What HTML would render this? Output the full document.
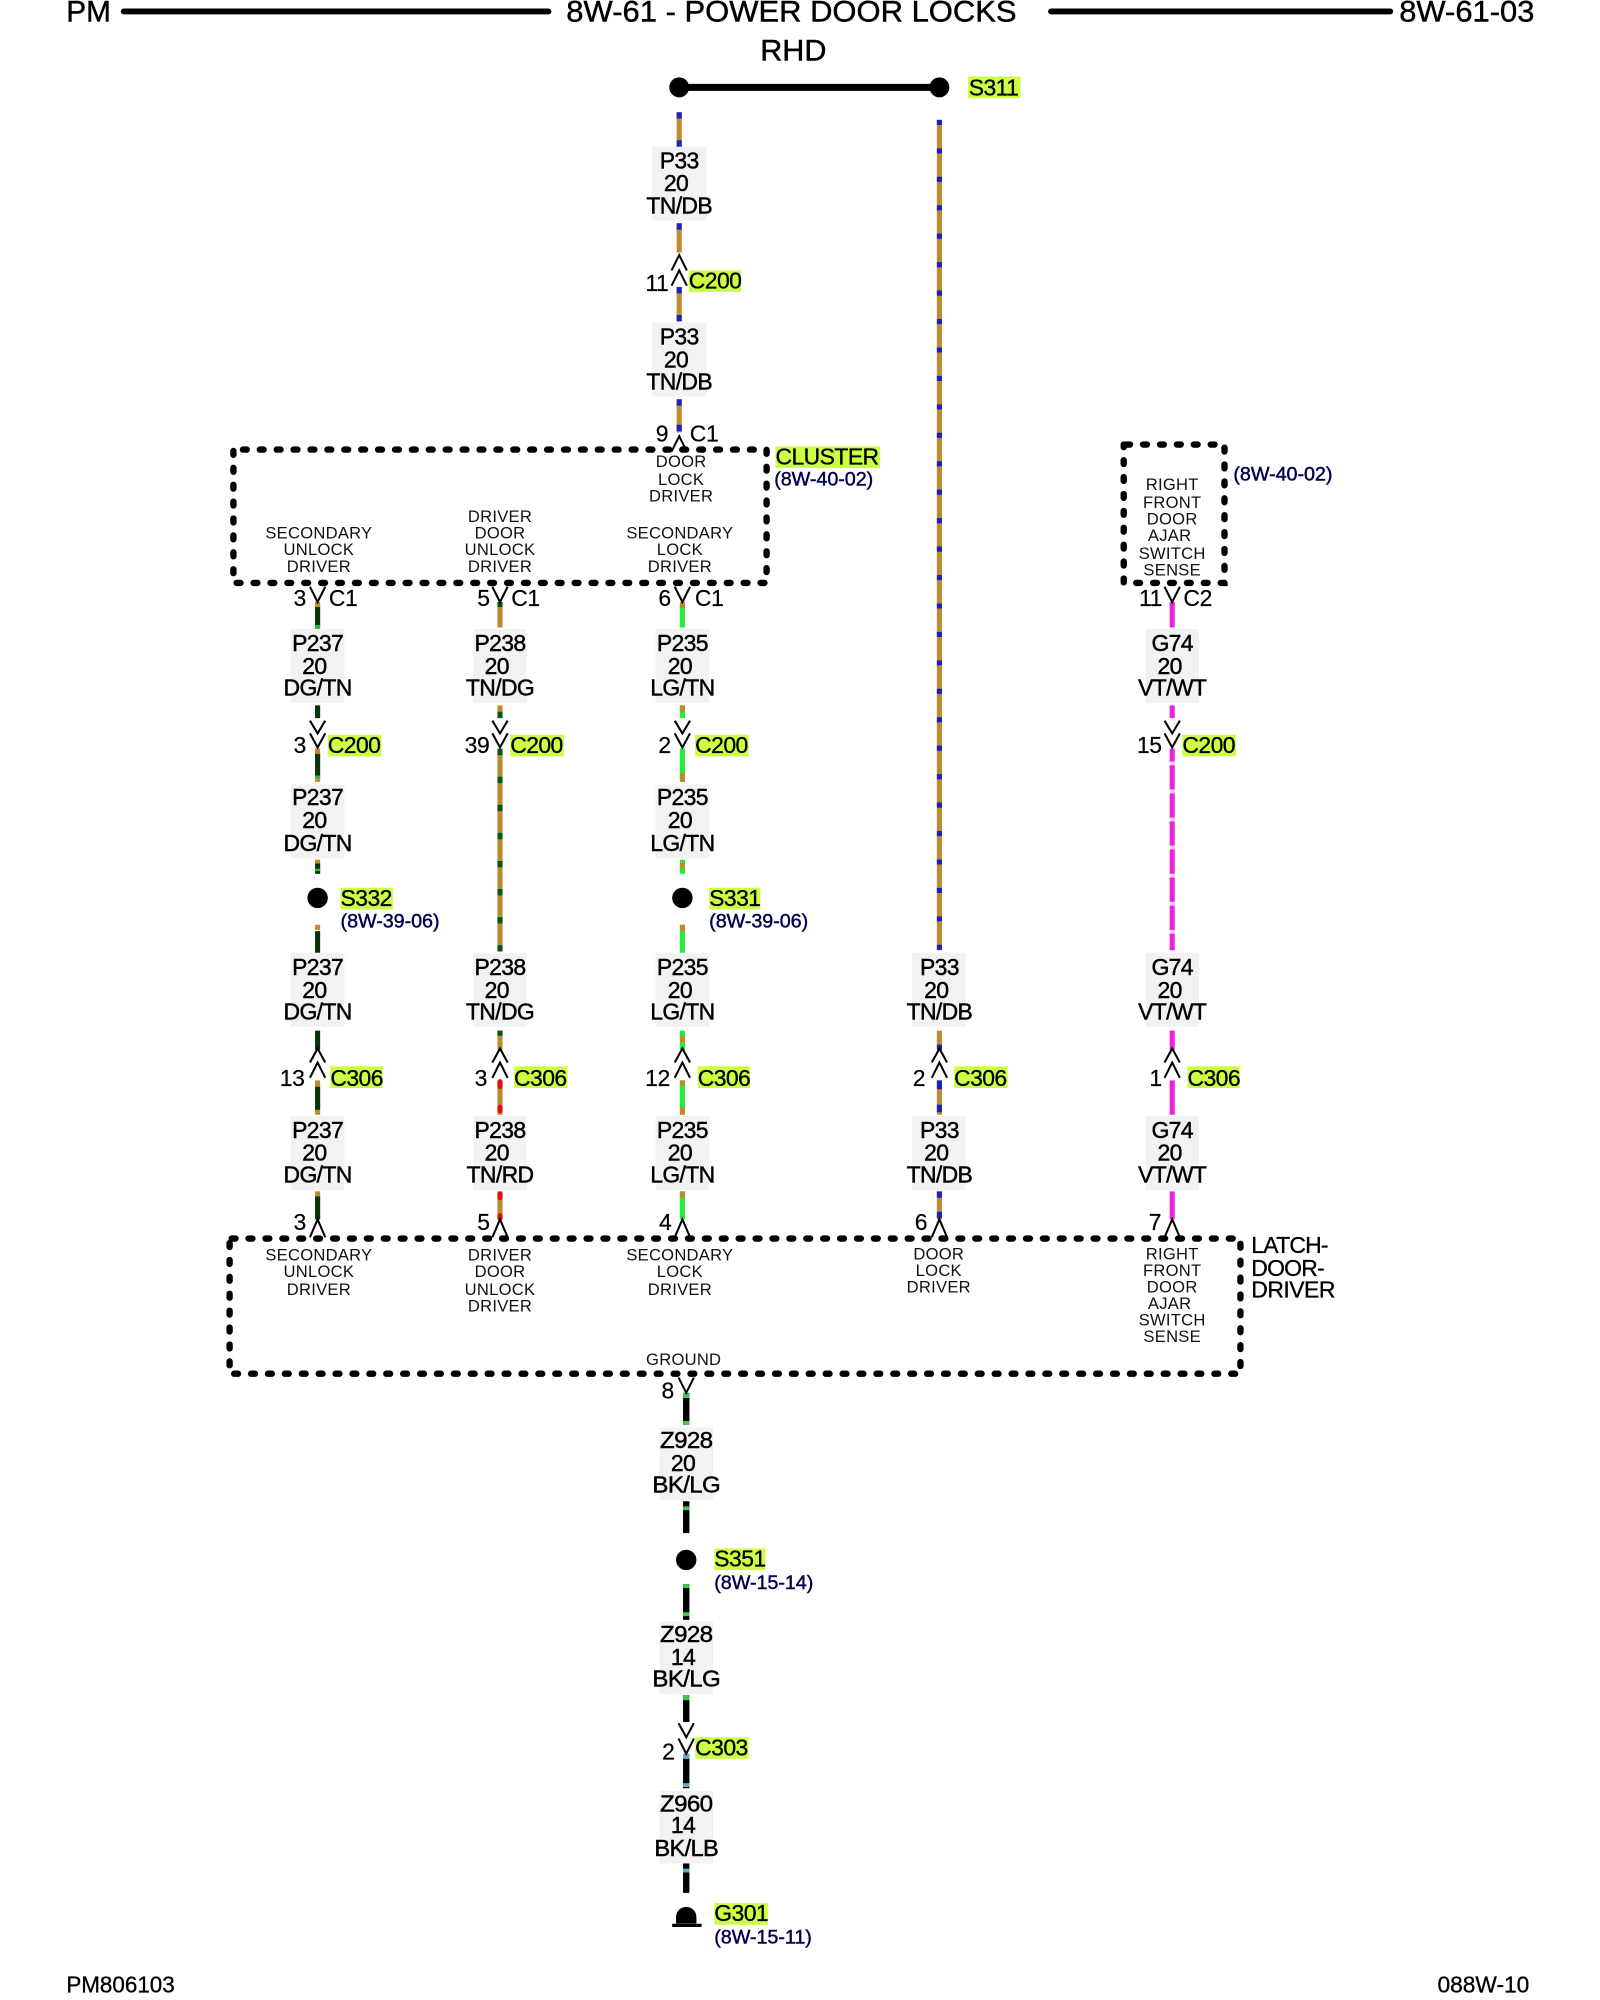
<!DOCTYPE html>
<html><head><meta charset="utf-8"><style>
html,body{margin:0;padding:0;background:#fff}
svg{display:block;width:1600px;height:2000px}
text{font-family:"Liberation Sans",sans-serif;fill:#000;dominant-baseline:central}
.t{font-size:23px;stroke:#000;stroke-width:.35}
.w{font-size:18px;text-anchor:middle;letter-spacing:-.5px;stroke:#000;stroke-width:.35}
.n{font-size:18px;text-anchor:middle;letter-spacing:-.3px;stroke:#000;stroke-width:.15}
.h{font-size:18px;letter-spacing:-.45px;stroke:#000;stroke-width:.25}
.s{font-size:13px;text-anchor:middle;letter-spacing:.2px;fill:#111}
.r{font-size:15.5px;letter-spacing:-.05px;fill:#00004f;stroke:#00004f;stroke-width:.35}
.b{fill:#f2f2f2}.y{fill:#ccff44}
.box{fill:none;stroke:#000;stroke-width:5;stroke-dasharray:3 10.25;stroke-linecap:round}
path.c{fill:none;stroke:#000;stroke-width:1.6}
path.x{fill:none;stroke-width:4}
</style></head><body>
<svg viewBox="0 0 1254.4 1568" preserveAspectRatio="none" xmlns="http://www.w3.org/2000/svg">
<!-- header -->
<path d="M97 9H430M824 9H1090" stroke="#000" stroke-width="4.6" stroke-linecap="round"/>
<text class="t" x="52" y="9.5" textLength="35" lengthAdjust="spacingAndGlyphs">PM</text>
<text class="t" x="444" y="9.5" textLength="353" lengthAdjust="spacingAndGlyphs">8W-61 - POWER DOOR LOCKS</text>
<text class="t" x="1097" y="9.5" textLength="106" lengthAdjust="spacingAndGlyphs">8W-61-03</text>
<text class="t" x="596" y="40" textLength="52" lengthAdjust="spacingAndGlyphs">RHD</text>
<!-- S311 -->
<path d="M532.5 68.500H736.5" stroke="#000" stroke-width="5.500"/>
<circle cx="532.5" cy="68.500" r="7.800"/><circle cx="736.5" cy="68.500" r="7.800"/>
<rect class="y" x="759" y="60" width="41" height="17"/>
<text class="h" x="759.5" y="68.500">S311</text>
<!-- grey label boxes -->
<g class="b">
<rect x="511" y="115" width="43" height="58"/><rect x="511" y="253" width="43" height="58"/>
<rect x="228" y="493" width="42" height="58"/><rect x="228" y="615" width="42" height="58"/><rect x="228" y="747" width="42" height="58"/><rect x="228" y="875" width="42" height="58"/>
<rect x="371" y="493" width="42" height="58"/><rect x="371" y="747" width="42" height="58"/><rect x="371" y="875" width="42" height="58"/>
<rect x="514" y="493" width="42" height="58"/><rect x="514" y="615" width="42" height="58"/><rect x="514" y="747" width="42" height="58"/><rect x="514" y="875" width="42" height="58"/>
<rect x="715" y="747" width="42" height="58"/><rect x="715" y="875" width="42" height="58"/>
<rect x="898" y="493" width="42" height="58"/><rect x="898" y="747" width="42" height="58"/><rect x="898" y="875" width="42" height="58"/>
<rect x="517" y="1119" width="42" height="57"/><rect x="517" y="1271" width="42" height="57"/><rect x="517" y="1404" width="42" height="57"/>
</g>
<!-- P33 wires: tan + blue -->
<path class="x" stroke="#bd8a30" d="M532.500 88V115M532.500 175V198M532.500 225V252M532.500 313V339M736.500 94V745M736.500 808V823M736.500 847V874M736.500 934V956"/>
<path class="x" stroke="#1622c4" d="M532.500 88v5M532.500 110v5M532.500 175v5M532.500 225v5M532.500 247v5M532.500 313v5M532.500 333v5M736.500 847v7M736.500 866v6M736.500 934v5M736.500 950v5M736.500 819v4"/>
<path class="x" stroke="#1622c4" stroke-dasharray="4 18.300" d="M736.500 94V745"/>
<!-- P237 -->
<path class="x" stroke="#bd8a30" d="M249 472v20M249 587V613M249 674v11M249 725v4M249 847v27M249 934v22"/>
<path class="x" stroke="#07330f" d="M249 476V490M249 553v10M249 591V608M249 677v8M249 730v17M249 808v15M249 852V870M249 938V956"/>
<path class="x" stroke="#22c030" d="M249 490v3M249 608v2M249 681v2"/>
<!-- P238 -->
<path class="x" stroke="#bd8a30" d="M392 472v20M392 553v10M392 587V745M392 808v15M392 847v27M392 934v22"/>
<path class="x" stroke="#07551a" stroke-dasharray="5 17" d="M392 587V748"/>
<path class="x" stroke="#07551a" d="M392 472v4M392 558v5M392 808v4"/>
<path class="x" stroke="#e01010" stroke-linecap="round" d="M392 848v4M392 868v3M392 936v3M392 953v2"/>
<!-- P235 -->
<path class="x" stroke="#22ee33" d="M535 472v20M535 553v10M535 587V613M535 674v11M535 725v22M535 808v15M535 847v27M535 934v22"/>
<path class="x" stroke="#bd8a30" d="M535 472v5M535 553v5M535 606v7M535 676v5M535 725v5M535 812v5M535 847v4M535 868v6M535 934v5"/>
<!-- G74 -->
<path class="x" stroke="#ee22dd" d="M919 472v20M919 553v10M919 587V745M919 808v15M919 847v27M919 934v22"/>
<path class="x" stroke="#fbd8f8" stroke-dasharray="3 19" d="M919 597V745"/>
<!-- Z wires -->
<path class="x" style="stroke-width:5" stroke="#000" d="M538 1092V1117M538 1177V1202M538 1242V1270M538 1329V1350M538 1375V1402M538 1461V1484"/>
<path class="x" style="stroke-width:5" stroke="#44c455" d="M538 1092v4M538 1114v3M538 1181v3M538 1242v3M538 1264v3M538 1329v4"/>
<path class="x" style="stroke-width:5" stroke="#66aac4" d="M538 1375v4M538 1398v3M538 1465v3"/>
<!-- dotted boxes -->
<rect class="box" style="stroke-dashoffset:5.8" x="183" y="352.500" width="418" height="104.500"/>
<rect class="box" style="stroke-dashoffset:11.3" x="881" y="348.500" width="79" height="108.500"/>
<rect class="box" style="stroke-dashoffset:11.6" x="180" y="971" width="792.500" height="106"/>
<!-- chevrons -->
<path class="c" d="M526.500 212l6-12l6 12M526.500 224l6-12l6 12M526.500 354l6-12l6 12
M243 460l6 12l6-12M386 460l6 12l6-12M529 460l6 12l6-12M913 460l6 12l6-12
M243 565l6 10l6-10M243 575l6 11l6-11M386 565l6 10l6-10M386 575l6 11l6-11M529 565l6 10l6-10M529 575l6 11l6-11M913 565l6 10l6-10M913 575l6 11l6-11
M243 833l6-11l6 11M243 845l6-12l6 12M386 833l6-11l6 11M386 845l6-12l6 12M529 833l6-11l6 11M529 845l6-12l6 12M730.500 833l6-11l6 11M730.500 845l6-12l6 12M913 833l6-11l6 11M913 845l6-12l6 12
M243 970l6-14l6 14M386 970l6-14l6 14M529 970l6-14l6 14M730.500 970l6-14l6 14M913 970l6-14l6 14
M532 1080l6 12l6-12M532 1351l6 11l6-11M532 1363l6 12l6-12"/>
<!-- wire labels -->
<text class="w" x="532.500" y="126">P33</text><text class="w" x="530" y="143.500">20</text><text class="w" x="532.500" y="161">TN/DB</text>
<text class="w" x="532.500" y="264">P33</text><text class="w" x="530" y="282">20</text><text class="w" x="532.500" y="299">TN/DB</text>
<text class="w" x="249" y="504">P237</text><text class="w" x="246.500" y="522">20</text><text class="w" x="249" y="539">DG/TN</text>
<text class="w" x="249" y="625">P237</text><text class="w" x="246.500" y="643">20</text><text class="w" x="249" y="661">DG/TN</text>
<text class="w" x="249" y="758">P237</text><text class="w" x="246.500" y="776">20</text><text class="w" x="249" y="793">DG/TN</text>
<text class="w" x="249" y="886">P237</text><text class="w" x="246.500" y="903.500">20</text><text class="w" x="249" y="921">DG/TN</text>
<text class="w" x="392" y="504">P238</text><text class="w" x="389.500" y="522">20</text><text class="w" x="392" y="539">TN/DG</text>
<text class="w" x="392" y="758">P238</text><text class="w" x="389.500" y="776">20</text><text class="w" x="392" y="793">TN/DG</text>
<text class="w" x="392" y="886">P238</text><text class="w" x="389.500" y="903.500">20</text><text class="w" x="392" y="921">TN/RD</text>
<text class="w" x="535" y="504">P235</text><text class="w" x="533" y="522">20</text><text class="w" x="535" y="539">LG/TN</text>
<text class="w" x="535" y="625">P235</text><text class="w" x="533" y="643">20</text><text class="w" x="535" y="661">LG/TN</text>
<text class="w" x="535" y="758">P235</text><text class="w" x="533" y="776">20</text><text class="w" x="535" y="793">LG/TN</text>
<text class="w" x="535" y="886">P235</text><text class="w" x="533" y="903.500">20</text><text class="w" x="535" y="921">LG/TN</text>
<text class="w" x="736.500" y="758">P33</text><text class="w" x="734" y="776">20</text><text class="w" x="736.500" y="793">TN/DB</text>
<text class="w" x="736.500" y="886">P33</text><text class="w" x="734" y="903.500">20</text><text class="w" x="736.500" y="921">TN/DB</text>
<text class="w" x="919" y="504">G74</text><text class="w" x="917" y="522">20</text><text class="w" x="919" y="539">VT/WT</text>
<text class="w" x="919" y="758">G74</text><text class="w" x="917" y="776">20</text><text class="w" x="919" y="793">VT/WT</text>
<text class="w" x="919" y="886">G74</text><text class="w" x="917" y="903.500">20</text><text class="w" x="919" y="921">VT/WT</text>
<text class="w" x="538" y="1129" textLength="41" lengthAdjust="spacingAndGlyphs">Z928</text><text class="w" x="535.500" y="1147">20</text><text class="w" x="538" y="1164" textLength="53" lengthAdjust="spacingAndGlyphs">BK/LG</text>
<text class="w" x="538" y="1281" textLength="41" lengthAdjust="spacingAndGlyphs">Z928</text><text class="w" x="535.500" y="1299">14</text><text class="w" x="538" y="1316" textLength="53" lengthAdjust="spacingAndGlyphs">BK/LG</text>
<text class="w" x="538" y="1414" textLength="41" lengthAdjust="spacingAndGlyphs">Z960</text><text class="w" x="535.500" y="1431">14</text><text class="w" x="538" y="1449" textLength="50" lengthAdjust="spacingAndGlyphs">BK/LB</text>
<!-- pin numbers -->
<text class="n" x="515" y="222">11</text><text class="n" x="519" y="340">9</text><text class="n" x="552" y="340">C1</text>
<text class="n" x="235" y="469">3</text><text class="n" x="269" y="469">C1</text>
<text class="n" x="379" y="469">5</text><text class="n" x="412" y="469">C1</text>
<text class="n" x="521" y="469">6</text><text class="n" x="556" y="469">C1</text>
<text class="n" x="902" y="469">11</text><text class="n" x="939" y="469">C2</text>
<text class="n" x="235" y="584">3</text><text class="n" x="374" y="584">39</text><text class="n" x="521" y="584">2</text><text class="n" x="901" y="584">15</text>
<text class="n" x="229" y="845">13</text><text class="n" x="377" y="845">3</text><text class="n" x="515.500" y="845">12</text><text class="n" x="720.500" y="845">2</text><text class="n" x="906" y="845">1</text>
<text class="n" x="235" y="958">3</text><text class="n" x="379" y="958">5</text><text class="n" x="521.500" y="958">4</text><text class="n" x="722" y="958">6</text><text class="n" x="905.500" y="958">7</text>
<text class="n" x="523.500" y="1090">8</text><text class="n" x="524" y="1373">2</text>
<!-- highlighted connector labels -->
<g class="y">
<rect x="540" y="212" width="41" height="17"/>
<rect x="608" y="350" width="82" height="17"/>
<rect x="257" y="576" width="42" height="17"/><rect x="400" y="576" width="42" height="17"/><rect x="545" y="576" width="42" height="17"/><rect x="927" y="576" width="42" height="17"/>
<rect x="267" y="696" width="41" height="17"/><rect x="556" y="696" width="40" height="17"/>
<rect x="259" y="836" width="41" height="17"/><rect x="403" y="836" width="42" height="17"/><rect x="547" y="836" width="41" height="17"/><rect x="748" y="836" width="42" height="17"/><rect x="931" y="836" width="41" height="17"/>
<rect x="560" y="1214" width="40" height="17"/><rect x="545" y="1362" width="42" height="17"/><rect x="560" y="1492" width="42" height="17"/>
</g>
<text class="h" x="540" y="220">C200</text><text class="h" x="608" y="358">CLUSTER</text>
<text class="h" x="257" y="584">C200</text><text class="h" x="400" y="584">C200</text><text class="h" x="545" y="584">C200</text><text class="h" x="927" y="584">C200</text>
<text class="h" x="267" y="704">S332</text><text class="h" x="556" y="704">S331</text>
<text class="h" x="259" y="845">C306</text><text class="h" x="403" y="845">C306</text><text class="h" x="547" y="845">C306</text><text class="h" x="748" y="845">C306</text><text class="h" x="931" y="845">C306</text>
<text class="h" x="560" y="1222">S351</text><text class="h" x="545" y="1370">C303</text><text class="h" x="560" y="1500">G301</text>
<!-- references -->
<text class="r" x="607" y="376">(8W-40-02)</text><text class="r" x="967" y="372">(8W-40-02)</text>
<text class="r" x="267" y="722.500">(8W-39-06)</text><text class="r" x="556" y="722.500">(8W-39-06)</text>
<text class="r" x="560" y="1241">(8W-15-14)</text><text class="r" x="560" y="1519">(8W-15-11)</text>
<!-- splices, ground -->
<circle cx="249" cy="704" r="8"/><circle cx="535" cy="704" r="8"/><circle cx="538" cy="1223" r="8"/>
<path d="M530 1508V1503a8 8 0 0 1 16 0V1508z"/><path d="M527 1509.500H550" stroke="#000" stroke-width="2.500"/>
<!-- cluster text -->
<text class="s" x="534" y="362">DOOR</text><text class="s" x="534" y="376">LOCK</text><text class="s" x="534" y="389">DRIVER</text>
<text class="s" x="250" y="418">SECONDARY</text><text class="s" x="250" y="431">UNLOCK</text><text class="s" x="250" y="444">DRIVER</text>
<text class="s" x="392" y="405">DRIVER</text><text class="s" x="392" y="418">DOOR</text><text class="s" x="392" y="431">UNLOCK</text><text class="s" x="392" y="444">DRIVER</text>
<text class="s" x="533" y="418">SECONDARY</text><text class="s" x="533" y="431">LOCK</text><text class="s" x="533" y="444">DRIVER</text>
<text class="s" x="919" y="380">RIGHT</text><text class="s" x="919" y="394">FRONT</text><text class="s" x="919" y="407">DOOR</text><text class="s" x="917" y="420">AJAR</text><text class="s" x="919" y="434">SWITCH</text><text class="s" x="919" y="447">SENSE</text>
<!-- latch text -->
<text class="s" x="250" y="984">SECONDARY</text><text class="s" x="250" y="997">UNLOCK</text><text class="s" x="250" y="1011">DRIVER</text>
<text class="s" x="392" y="984">DRIVER</text><text class="s" x="392" y="997">DOOR</text><text class="s" x="392" y="1011">UNLOCK</text><text class="s" x="392" y="1024">DRIVER</text>
<text class="s" x="533" y="984">SECONDARY</text><text class="s" x="533" y="997">LOCK</text><text class="s" x="533" y="1011">DRIVER</text>
<text class="s" x="736" y="983">DOOR</text><text class="s" x="736" y="996">LOCK</text><text class="s" x="736" y="1009">DRIVER</text>
<text class="s" x="919" y="983">RIGHT</text><text class="s" x="919" y="996">FRONT</text><text class="s" x="919" y="1009">DOOR</text><text class="s" x="917" y="1022">AJAR</text><text class="s" x="919" y="1035">SWITCH</text><text class="s" x="919" y="1048">SENSE</text>
<text class="s" x="536" y="1066">GROUND</text>
<text class="h" x="981" y="976" style="letter-spacing:-.6px">LATCH-</text><text class="h" x="981" y="994" style="letter-spacing:-.6px">DOOR-</text><text class="h" x="981" y="1011" style="letter-spacing:-.4px">DRIVER</text>
<!-- footer -->
<text x="52" y="1556" font-size="18" stroke="#000" stroke-width=".25" textLength="85" lengthAdjust="spacingAndGlyphs">PM806103</text>
<text x="1127" y="1556" font-size="18" stroke="#000" stroke-width=".25" textLength="72" lengthAdjust="spacingAndGlyphs">088W-10</text>
</svg>
</body></html>
